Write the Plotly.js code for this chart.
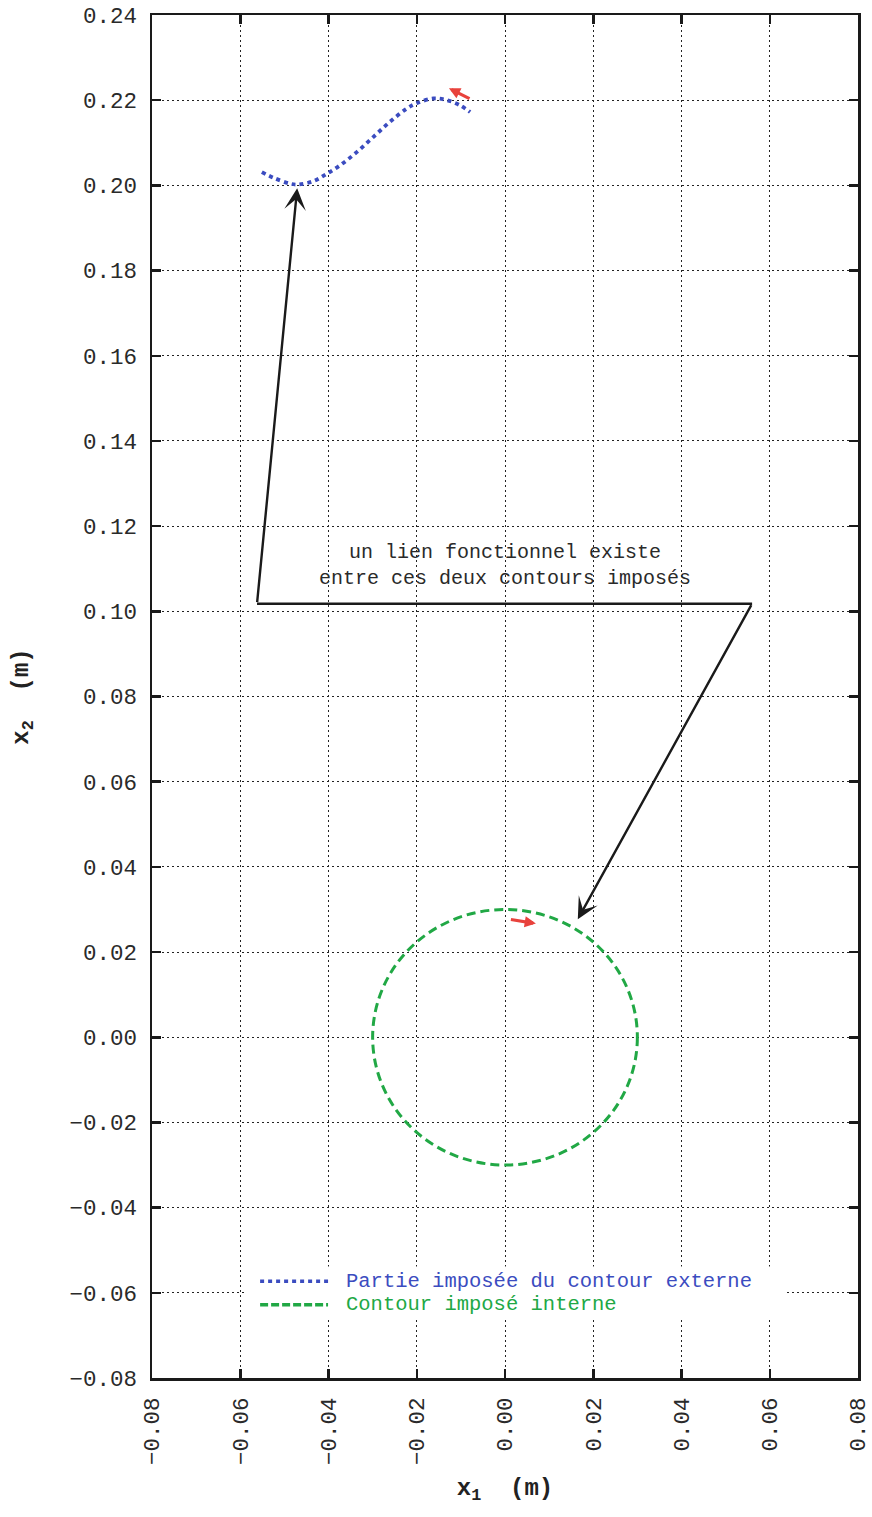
<!DOCTYPE html>
<html>
<head>
<meta charset="utf-8">
<script src="https://cdn.plot.ly/plotly-3.0.1.min.js"></script>
<style>
  html, body { margin: 0; padding: 0; background: #ffffff; }
  #plot { width: 872px; height: 1517px; }
</style>
</head>
<body>
<div id="plot"></div>
<script>
// Imposed part of the outer contour (x1, x2 in metres)
const outerX = [-0.0551, -0.0525, -0.0487, -0.0468, -0.0434, -0.0404, -0.0374, -0.0336,
                -0.0298, -0.0261, -0.0223, -0.0200, -0.0162, -0.0132, -0.0102, -0.0079];
const outerY = [0.2031, 0.2018, 0.2004, 0.2002, 0.2010, 0.2027, 0.2047, 0.2078,
                0.2114, 0.2149, 0.2180, 0.2193, 0.2204, 0.2200, 0.2188, 0.2172];

// Imposed inner contour: circle
const innerCenter = [0.0, 0.0];
const innerRadius = 0.03;

const seriesNames = ['Partie imposée du contour externe', 'Contour imposé interne'];
const seriesColors = ['#3b4cc0', '#21a845'];

// Direction arrows along each contour (tail -> head)
const dirTailX = [-0.0077, 0.0010];
const dirTailY = [0.2202, 0.0277];
const dirHeadX = [-0.0127, 0.0070];
const dirHeadY = [0.2228, 0.0267];

// Link between the two contours: horizontal bar and the two pointers
const linkBarX = [-0.0562, 0.0560];
const linkBarY = [0.1018, 0.1018];
const linkTargetX = [-0.0471, 0.0165];
const linkTargetY = [0.1993, 0.0277];
const linkText = 'un lien fonctionnel existe<br>entre ces deux contours imposés';
const linkTextPos = [0.0, 0.1107];

const xTicks = [-0.08, -0.06, -0.04, -0.02, 0.00, 0.02, 0.04, 0.06, 0.08];
const yTicks = [0.24, 0.22, 0.20, 0.18, 0.16, 0.14, 0.12, 0.10, 0.08, 0.06, 0.04, 0.02,
                0.00, -0.02, -0.04, -0.06, -0.08];

const mono = 'Liberation Mono, Courier New, monospace';

const traces = [{
  type: 'scatter',
  mode: 'lines',
  x: outerX,
  y: outerY,
  name: seriesNames[0],
  showlegend: false,
  line: { color: seriesColors[0], width: 3.8, dash: '4px,4px', shape: 'spline' },
  hoverinfo: 'skip'
}];

const shapes = [];

// inner contour circle
shapes.push({
  type: 'circle', xref: 'x', yref: 'y', layer: 'above',
  x0: innerCenter[0] - innerRadius, x1: innerCenter[0] + innerRadius,
  y0: innerCenter[1] - innerRadius, y1: innerCenter[1] + innerRadius,
  line: { color: seriesColors[1], width: 3, dash: '9px,5px' }
});

// horizontal bar of the link
shapes.push({
  type: 'line', xref: 'x', yref: 'y', layer: 'above',
  x0: linkBarX[0], x1: linkBarX[1], y0: linkBarY[0], y1: linkBarY[1],
  line: { color: '#1a1a1a', width: 2.5 }
});

// legend box (white background hiding the grid) and line samples
shapes.push({
  type: 'rect', xref: 'x', yref: 'y', layer: 'between',
  x0: -0.0589, x1: 0.0635, y0: -0.0538, y1: -0.0658,
  fillcolor: '#ffffff', line: { width: 0 }
});
shapes.push({
  type: 'line', xref: 'x', yref: 'y', layer: 'above',
  x0: -0.0555, x1: -0.0401, y0: -0.0573, y1: -0.0573,
  line: { color: seriesColors[0], width: 3.5, dash: '4px,4px' }
});
shapes.push({
  type: 'line', xref: 'x', yref: 'y', layer: 'above',
  x0: -0.0555, x1: -0.0401, y0: -0.0628, y1: -0.0628,
  line: { color: seriesColors[1], width: 3.5, dash: '8px,3px' }
});

const annotations = [];

// red direction arrows
for (let i = 0; i < dirTailX.length; i++) {
  annotations.push({
    x: dirHeadX[i], y: dirHeadY[i], ax: dirTailX[i], ay: dirTailY[i],
    xref: 'x', yref: 'y', axref: 'x', ayref: 'y',
    text: '', showarrow: true, arrowhead: 2, arrowsize: 0.7, arrowwidth: 3.2,
    arrowcolor: '#e8423c', standoff: 0
  });
}

// black pointers from the link bar to each contour
for (let i = 0; i < linkTargetX.length; i++) {
  annotations.push({
    x: linkTargetX[i], y: linkTargetY[i], ax: linkBarX[i], ay: linkBarY[i],
    xref: 'x', yref: 'y', axref: 'x', ayref: 'y',
    text: '', showarrow: true, arrowhead: 3, arrowsize: 1.5, arrowwidth: 2.4,
    arrowcolor: '#1a1a1a', standoff: 0
  });
}

// link caption
annotations.push({
  x: linkTextPos[0], y: linkTextPos[1], xref: 'x', yref: 'y',
  text: linkText, showarrow: false, xanchor: 'center', yanchor: 'middle',
  font: { family: mono, size: 20, color: '#2a2a2a' }
});

// legend texts
annotations.push({
  x: -0.0365, y: -0.0573, xref: 'x', yref: 'y', xanchor: 'left', yanchor: 'middle',
  text: seriesNames[0], showarrow: false,
  font: { family: mono, size: 20.5, color: seriesColors[0] }
});
annotations.push({
  x: -0.0365, y: -0.0628, xref: 'x', yref: 'y', xanchor: 'left', yanchor: 'middle',
  text: seriesNames[1], showarrow: false,
  font: { family: mono, size: 20.5, color: seriesColors[1] }
});

const axisCommon = {
  showline: true, linecolor: '#1a1a1a', linewidth: 2.5, mirror: 'ticks',
  ticks: 'inside', ticklen: 9, tickwidth: 2.5, tickcolor: '#1a1a1a',
  showgrid: true, gridcolor: '#222222', gridwidth: 1, griddash: '2px,3px',
  zeroline: false, tickformat: '.2f', ticklabeloverflow: 'allow',
  tickfont: { family: mono, size: 22.5, color: '#2a2a2a' },
  fixedrange: true
};

const layout = {
  width: 872, height: 1517,
  margin: { l: 152, r: 14, t: 15, b: 139 },
  paper_bgcolor: '#ffffff', plot_bgcolor: '#ffffff',
  showlegend: false,
  xaxis: Object.assign({}, axisCommon, {
    range: [xTicks[0] - 1e-9, xTicks[xTicks.length - 1] + 1e-9],
    tickvals: xTicks, tickangle: -90, ticklabelstandoff: 8,
    title: { text: '<b>x<sub>1</sub>&nbsp;&nbsp;(m)</b>', standoff: 14,
             font: { family: mono, size: 24, color: '#222222' } }
  }),
  yaxis: Object.assign({}, axisCommon, {
    range: [yTicks[yTicks.length - 1] - 1e-9, yTicks[0] + 1e-9],
    tickvals: yTicks, ticklabelstandoff: 8,
    title: { text: '<b>x<sub>2</sub>&nbsp;&nbsp;(m)</b>', standoff: 34,
             font: { family: mono, size: 24, color: '#222222' } }
  }),
  shapes: shapes,
  annotations: annotations
};

Plotly.newPlot('plot', traces, layout, { displayModeBar: false, staticPlot: true });
</script>
</body>
</html>
